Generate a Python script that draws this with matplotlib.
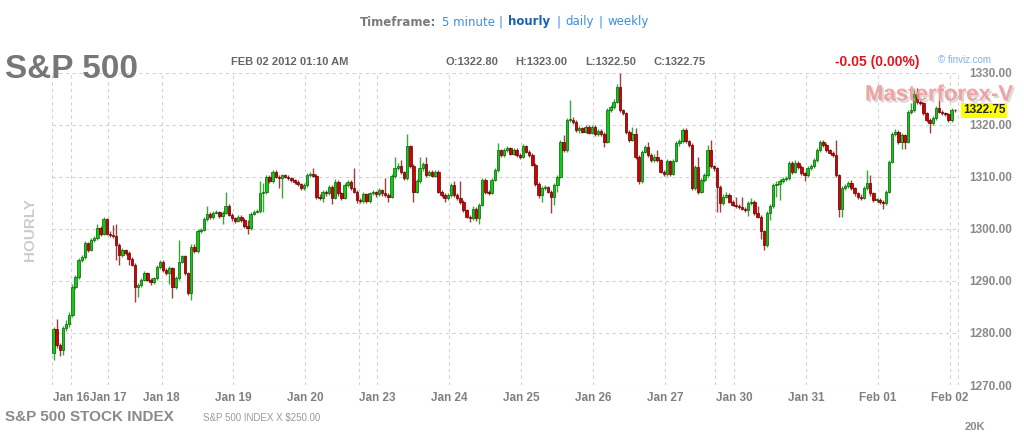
import matplotlib
matplotlib.use("Agg")
import matplotlib.pyplot as plt
import matplotlib.patheffects as pe
import matplotlib.transforms as mtransforms
import numpy as np

#####################################
# Data: S&P 500 hourly candles, Jan 15 - Feb 02 2012
#####################################

session_labels = ["", "Jan 16", "Jan 17", "Jan 18", "Jan 19", "Jan 20", "",
                  "Jan 23", "Jan 24", "Jan 25", "Jan 26", "Jan 27", "",
                  "Jan 30", "Jan 31", "Feb 01", "Feb 02"]
session_bars = [6, 12, 17, 23, 23, 17, 6, 23, 23, 23, 23, 16, 6, 23, 23, 23, 2]

first_open = 1276.2

closes = [
    1280.7, 1277.7, 1276.7, 1280.9, 1281.8, 1283.5,
    1288.9, 1290.8, 1294.0, 1294.6, 1297.2, 1296.0, 1297.9, 1298.2, 1300.1, 1299.1, 1301.8, 1299.1,
    1298.8, 1298.6, 1296.9, 1295.0, 1295.9, 1295.4, 1294.3, 1293.1, 1288.9, 1289.2, 1290.2, 1291.5,
    1290.2, 1289.7, 1290.5, 1292.6, 1293.7,
    1292.1, 1291.5, 1292.4, 1288.9, 1290.5, 1293.7, 1294.7, 1291.5, 1287.7, 1296.6, 1295.7, 1299.5,
    1299.8, 1301.8, 1302.9, 1302.2, 1303.1, 1303.2, 1302.4, 1303.1, 1304.4, 1302.7, 1302.0,
    1301.6, 1302.3, 1301.7, 1300.6, 1300.1, 1302.9, 1303.3, 1303.4, 1306.8, 1307.0, 1310.0, 1309.1,
    1311.0, 1310.0, 1309.7, 1310.3, 1310.0, 1309.7, 1309.3, 1309.0, 1308.6, 1307.8, 1308.4,
    1310.3, 1310.5, 1310.2, 1306.2, 1305.9, 1307.0, 1306.8, 1308.1, 1306.0, 1309.0, 1306.8, 1306.0,
    1308.5, 1309.0, 1307.8, 1307.1, 1305.6,
    1305.3, 1306.6, 1305.3, 1306.8, 1307.0, 1306.6,
    1307.4, 1306.8, 1306.5, 1306.2, 1310.1, 1311.7, 1312.1, 1310.9, 1309.7, 1315.9, 1312.1, 1307.1,
    1309.1, 1311.6, 1312.4, 1310.4, 1311.0, 1310.2, 1311.0, 1307.1, 1306.5, 1305.9, 1306.5,
    1308.4, 1306.5, 1305.9, 1305.2, 1303.6, 1302.3, 1302.0, 1303.9, 1302.0, 1304.6, 1309.4, 1307.1,
    1306.9, 1309.4, 1311.3, 1315.1, 1314.2, 1315.1, 1315.5, 1314.4, 1315.2, 1314.2, 1313.9,
    1315.9, 1314.8, 1314.2, 1312.3, 1308.7, 1306.5, 1307.8, 1308.0, 1307.1, 1306.1, 1308.4, 1310.0,
    1316.7, 1315.1, 1320.9, 1321.0, 1320.6, 1319.0, 1319.3, 1318.7, 1319.6, 1318.5, 1319.6,
    1318.2, 1318.8, 1318.3, 1316.7, 1322.8, 1323.4, 1324.4, 1327.3, 1322.8, 1322.2, 1318.7, 1317.1,
    1318.3, 1313.9, 1309.1, 1314.8, 1315.8, 1314.2, 1313.2, 1313.9, 1313.2, 1311.0, 1310.5,
    1313.0, 1310.6, 1313.1, 1316.4, 1316.8, 1319.0, 1316.8, 1316.1, 1307.8, 1311.9, 1307.1, 1309.3,
    1310.3, 1315.1, 1312.0, 1311.6,
    1308.1, 1304.9, 1306.2, 1306.5, 1305.2, 1304.6,
    1304.3, 1304.2, 1303.9, 1303.6, 1304.9, 1305.2, 1303.0, 1302.3, 1299.5, 1296.9, 1303.0, 1304.3,
    1308.4, 1308.7, 1309.1, 1309.5, 1309.7, 1312.7, 1311.0, 1312.7, 1311.9, 1310.7, 1310.3,
    1311.6, 1312.0, 1313.2, 1315.1, 1316.7, 1316.1, 1315.1, 1314.6, 1314.2, 1310.3, 1303.9, 1307.8,
    1308.2, 1308.8, 1307.8, 1306.8, 1306.2, 1306.0, 1307.8, 1308.8, 1306.8, 1305.5, 1305.6,
    1305.2, 1304.9, 1307.1, 1312.9, 1318.2, 1318.7, 1316.7, 1318.0, 1316.7, 1322.5, 1322.8, 1326.0,
    1324.4, 1324.1, 1322.2, 1321.0, 1320.3, 1321.3, 1323.2, 1322.5, 1322.2, 1322.0, 1320.9,
    1322.8, 1322.75,
]

highs = [
    1281.2, 1282.6, 1278.0, 1281.3, 1282.4, 1284.0,
    1289.5, 1291.2, 1294.4, 1295.0, 1297.6, 1297.5, 1298.3, 1298.7, 1301.0, 1300.6, 1302.2, 1302.0,
    1299.5, 1300.8, 1300.9, 1297.2, 1296.3, 1296.2, 1295.8, 1294.6, 1293.4, 1289.6, 1290.6, 1291.9,
    1291.8, 1290.5, 1290.8, 1293.0, 1294.1,
    1294.0, 1292.4, 1292.8, 1292.7, 1290.9, 1297.9, 1295.0, 1295.0, 1291.8, 1297.0, 1297.0, 1299.9,
    1300.2, 1302.2, 1304.3, 1303.3, 1303.5, 1303.6, 1303.5, 1303.4, 1307.1, 1304.7, 1303.0,
    1302.3, 1302.7, 1302.6, 1302.0, 1301.7, 1303.3, 1303.7, 1303.8, 1309.1, 1308.8, 1310.4, 1310.3,
    1311.4, 1311.3, 1310.3, 1310.6, 1310.6, 1310.3, 1310.0, 1309.6, 1309.3, 1308.9, 1308.8,
    1310.7, 1310.9, 1311.7, 1310.5, 1306.6, 1307.4, 1307.5, 1308.5, 1308.4, 1309.5, 1309.3, 1307.1,
    1308.9, 1309.4, 1309.3, 1311.6, 1307.4,
    1306.0, 1307.0, 1306.9, 1307.1, 1307.4, 1307.3,
    1307.8, 1307.7, 1309.7, 1306.8, 1310.5, 1313.9, 1312.6, 1313.3, 1311.2, 1318.2, 1316.2, 1312.4,
    1309.5, 1313.9, 1312.8, 1313.9, 1311.4, 1311.3, 1311.3, 1311.3, 1307.4, 1306.8, 1306.9,
    1308.8, 1309.1, 1306.8, 1309.1, 1305.5, 1303.9, 1302.7, 1304.3, 1304.2, 1305.0, 1309.8, 1309.7,
    1307.5, 1309.8, 1311.7, 1316.4, 1315.4, 1315.5, 1315.9, 1315.8, 1315.6, 1315.5, 1314.6,
    1316.3, 1316.1, 1315.1, 1314.5, 1312.6, 1309.0, 1308.2, 1308.4, 1308.3, 1307.4, 1308.8, 1310.4,
    1317.1, 1318.0, 1321.3, 1324.8, 1321.4, 1320.9, 1319.7, 1319.6, 1320.0, 1319.9, 1320.0,
    1319.9, 1319.2, 1319.1, 1318.6, 1323.2, 1323.8, 1324.9, 1327.9, 1329.9, 1323.1, 1322.5, 1319.0,
    1319.6, 1319.3, 1314.2, 1315.2, 1316.2, 1316.7, 1314.5, 1314.3, 1315.1, 1313.5, 1311.3,
    1313.4, 1313.3, 1313.5, 1316.8, 1317.2, 1319.4, 1319.3, 1317.1, 1316.4, 1312.3, 1313.9, 1309.7,
    1310.7, 1316.1, 1317.1, 1312.3,
    1311.9, 1308.4, 1306.6, 1307.1, 1306.8, 1305.5,
    1306.2, 1304.7, 1306.2, 1304.2, 1305.3, 1305.9, 1305.5, 1304.3, 1302.6, 1299.8, 1303.4, 1304.7,
    1308.8, 1309.1, 1309.5, 1309.9, 1310.1, 1313.1, 1313.0, 1313.2, 1313.0, 1312.2, 1311.0,
    1312.0, 1312.4, 1313.6, 1315.5, 1317.1, 1317.1, 1316.4, 1315.4, 1314.9, 1317.1, 1310.6, 1308.2,
    1308.6, 1309.2, 1309.3, 1308.1, 1307.1, 1306.6, 1308.2, 1311.3, 1310.3, 1307.1, 1306.0,
    1305.9, 1305.5, 1307.5, 1313.3, 1318.6, 1319.1, 1319.0, 1318.4, 1318.3, 1322.9, 1324.1, 1326.7,
    1327.0, 1324.8, 1324.4, 1322.5, 1321.3, 1321.7, 1323.6, 1324.8, 1322.8, 1322.5, 1322.3,
    1323.2, 1323.0,
]

lows = [
    1274.8, 1277.2, 1275.6, 1275.8, 1280.3, 1281.2,
    1283.0, 1288.5, 1290.3, 1293.6, 1294.2, 1295.6, 1295.7, 1297.5, 1297.9, 1298.7, 1298.8, 1298.8,
    1298.4, 1298.2, 1294.0, 1293.1, 1294.6, 1295.0, 1293.1, 1292.8, 1286.0, 1287.0, 1288.8, 1289.9,
    1289.9, 1289.3, 1289.4, 1290.2, 1292.3,
    1291.8, 1291.1, 1289.4, 1286.7, 1288.5, 1290.2, 1293.4, 1291.2, 1287.3, 1286.3, 1295.3, 1295.4,
    1299.2, 1299.5, 1301.5, 1301.8, 1301.9, 1302.8, 1302.0, 1301.0, 1302.8, 1302.4, 1301.6,
    1301.2, 1301.3, 1301.3, 1300.2, 1299.1, 1299.8, 1302.6, 1303.0, 1303.1, 1303.3, 1306.7, 1308.8,
    1308.8, 1309.7, 1307.8, 1306.0, 1309.7, 1309.4, 1309.0, 1308.7, 1308.3, 1307.4, 1307.5,
    1308.1, 1310.0, 1309.9, 1305.8, 1305.5, 1305.2, 1306.4, 1306.5, 1304.8, 1305.7, 1306.4, 1305.6,
    1305.7, 1308.1, 1307.4, 1306.8, 1305.0,
    1304.9, 1305.0, 1305.0, 1305.0, 1306.5, 1306.2,
    1306.3, 1306.4, 1306.1, 1305.2, 1305.9, 1309.8, 1311.3, 1310.5, 1309.4, 1309.4, 1311.7, 1305.2,
    1306.8, 1308.8, 1311.2, 1310.0, 1310.1, 1309.9, 1309.9, 1306.8, 1306.1, 1305.2, 1305.6,
    1306.2, 1306.1, 1305.5, 1304.8, 1303.3, 1302.0, 1301.4, 1301.7, 1301.6, 1301.0, 1304.3, 1306.7,
    1306.5, 1306.6, 1309.1, 1311.0, 1313.9, 1313.9, 1314.8, 1314.1, 1314.1, 1313.9, 1313.5,
    1313.6, 1314.5, 1313.9, 1312.0, 1308.3, 1305.9, 1305.2, 1307.4, 1306.8, 1303.0, 1304.6, 1307.1,
    1309.7, 1314.8, 1314.8, 1320.5, 1320.2, 1318.6, 1318.5, 1318.4, 1318.4, 1318.2, 1318.2,
    1317.9, 1317.9, 1317.9, 1315.8, 1316.4, 1322.4, 1323.0, 1324.1, 1322.4, 1321.8, 1318.3, 1316.7,
    1316.8, 1313.5, 1308.7, 1308.8, 1314.5, 1313.9, 1312.9, 1312.9, 1312.9, 1310.7, 1310.1,
    1310.2, 1310.2, 1310.3, 1312.8, 1316.0, 1316.5, 1316.4, 1315.7, 1307.4, 1307.5, 1306.7, 1306.8,
    1309.0, 1310.0, 1311.6, 1311.2,
    1303.3, 1303.3, 1304.6, 1305.9, 1304.9, 1304.3,
    1304.0, 1303.9, 1303.6, 1303.2, 1302.4, 1304.6, 1302.7, 1302.0, 1298.0, 1296.0, 1296.6, 1301.7,
    1304.0, 1306.2, 1305.5, 1308.8, 1309.2, 1309.4, 1310.6, 1310.7, 1311.5, 1310.3, 1309.1,
    1310.0, 1311.3, 1311.7, 1312.9, 1314.8, 1315.8, 1314.8, 1314.3, 1313.9, 1309.9, 1302.3, 1302.3,
    1307.4, 1307.9, 1307.4, 1306.4, 1305.8, 1305.6, 1305.7, 1307.5, 1306.4, 1305.1, 1305.1,
    1304.8, 1303.9, 1304.6, 1306.8, 1312.6, 1317.9, 1316.3, 1315.4, 1315.4, 1316.4, 1322.1, 1322.5,
    1324.0, 1323.7, 1321.8, 1320.6, 1318.4, 1320.0, 1321.0, 1322.2, 1321.9, 1321.7, 1320.6,
    1320.6, 1322.5,
]

y_ticks = [1270, 1280, 1290, 1300, 1310, 1320, 1330]
last_price = 1322.75

#####################################
# Figure setup
#####################################

plt.rcParams['font.family'] = ['Liberation Sans', 'DejaVu Sans']

W, H = 1024, 433
fig = plt.figure(figsize=(W / 100, H / 100), dpi=100)
fig.patch.set_facecolor("white")


def fy(y):
    # pixel row from top -> figure fraction
    return 1 - y / H


ax = fig.add_axes([52 / W, fy(385), (958.5 - 52) / W, (385 - 72.7) / H])

closes = np.array(closes)
highs = np.array(highs)
lows = np.array(lows)
opens = np.concatenate([[first_open], closes[:-1]])
x = np.arange(len(closes))

ax.set_xlim(-0.5, len(closes) + 0.2)
ax.set_ylim(min(y_ticks), max(y_ticks))

grid_style = dict(color="#d2d2d2", linestyle=(0, (3, 3)), linewidth=0.8, zorder=0)

# session boundaries
starts = np.concatenate([[0], np.cumsum(session_bars)[:-1]])
for s in starts:
    ax.axvline(s - 0.5, **grid_style)
ax.axvline(len(closes) + 0.1, **grid_style)
for v in y_ticks:
    ax.axhline(v, **grid_style)

tick_pos = [s - 0.5 for s, lab in zip(starts, session_labels) if lab]
tick_lab = [lab for lab in session_labels if lab]
ax.set_xticks(tick_pos)
ax.set_xticklabels(tick_lab, fontsize=8.5, fontweight="bold", color="#808080")
ax.tick_params(axis="x", length=0, pad=5)

ax.yaxis.tick_right()
ax.set_yticks(y_ticks)
ax.set_yticklabels([f"{v:.2f}" for v in y_ticks], fontsize=8.5, fontweight="bold", color="#8a8a8a")
ax.tick_params(axis="y", length=0, pad=8)

for sp in ax.spines.values():
    sp.set_visible(False)

#####################################
# Candles
#####################################

up = closes >= opens
wick_col = np.where(up, "#36a836", "#9c4040")
ax.vlines(x, lows, highs, colors=wick_col, linewidth=1.0, zorder=2, clip_on=False)

body_low = np.minimum(opens, closes)
body_h = np.maximum(np.abs(closes - opens), 0.15)
ax.bar(x[up], body_h[up], bottom=body_low[up], width=0.78,
       color="#10cc10", edgecolor="#0b5d0b", linewidth=0.5, zorder=3, clip_on=False)
ax.bar(x[~up], body_h[~up], bottom=body_low[~up], width=0.78,
       color="#d40000", edgecolor="#600000", linewidth=0.5, zorder=3, clip_on=False)

# last price marker
trans = mtransforms.blended_transform_factory(fig.transFigure, ax.transData)
ax.text(963 / W, last_price, f"{last_price:.2f}", transform=trans, ha="left", va="center",
        fontsize=8.5, fontweight="bold", color="#222222",
        bbox=dict(boxstyle="square,pad=0.15", facecolor="#ffff00", edgecolor="none"))

#####################################
# Header / footer text
#####################################

tf_y = fy(22)
fig.text(360 / W, tf_y, "Timeframe:", family="DejaVu Sans", fontsize=8.5, fontweight="bold",
         color="#7a7a7a", va="center")
fig.text(442 / W, tf_y, "5 minute", family="DejaVu Sans", fontsize=8.5, color="#3d8fe0", va="center")
fig.text(498 / W, tf_y, "|", family="DejaVu Sans", fontsize=8.5, color="#3d8fe0", va="center")
fig.text(508 / W, tf_y, "hourly", family="DejaVu Sans", fontsize=8.5, fontweight="bold",
         color="#1a5fb4", va="center")
fig.text(556 / W, tf_y, "|", family="DejaVu Sans", fontsize=8.5, color="#3d8fe0", va="center")
fig.text(565 / W, tf_y, "daily", family="DejaVu Sans", fontsize=8.5, color="#3d8fe0", va="center")
fig.text(599 / W, tf_y, "|", family="DejaVu Sans", fontsize=8.5, color="#3d8fe0", va="center")
fig.text(607 / W, tf_y, "weekly", family="DejaVu Sans", fontsize=8.5, color="#3d8fe0", va="center")

fig.text(5 / W, fy(70), "S&P 500", fontsize=24, fontweight="bold", color="#777777", va="center")

hdr_y = fy(62)
fig.text(231 / W, hdr_y, "FEB 02 2012 01:10 AM", fontsize=8, fontweight="bold", color="#666666", va="center")
fig.text(445 / W, hdr_y, "O:1322.80", fontsize=8, fontweight="bold", color="#666666", va="center")
fig.text(515 / W, hdr_y, "H:1323.00", fontsize=8, fontweight="bold", color="#666666", va="center")
fig.text(585 / W, hdr_y, "L:1322.50", fontsize=8, fontweight="bold", color="#666666", va="center")
fig.text(653 / W, hdr_y, "C:1322.75", fontsize=8, fontweight="bold", color="#666666", va="center")
fig.text(835 / W, hdr_y, "-0.05 (0.00%)", fontsize=10, fontweight="bold", color="#e3141b", va="center")
fig.text(938 / W, fy(60), "\u00a9 finviz.com", fontsize=7, color="#7fb2e5", va="center")

fig.text(30 / W, fy(230), "HOURLY", fontsize=11, fontweight="bold", color="#cccccc",
         rotation=90, ha="center", va="center")

fig.text(5 / W, fy(417), "S&P 500 STOCK INDEX", fontsize=11, fontweight="bold", color="#8a8a8a", va="center")
fig.text(203 / W, fy(418), "S&P 500 INDEX X $250.00", fontsize=7, color="#9a9a9a", va="center",
         parse_math=False)
# volume scale label at the very bottom edge
fig.text(965 / W, fy(432), "20K", fontsize=8, fontweight="bold", color="#8a8a8a", va="bottom")

fig.text(939 / W, fy(95), "Masterforex-V", fontsize=16, fontweight="bold", color="#f29494",
         alpha=0.85, ha="center", va="center", zorder=10,
         path_effects=[pe.withSimplePatchShadow(offset=(1.5, -1.5), shadow_rgbFace="#999999", alpha=0.35)])

fig.savefig("out.png", dpi=100)
